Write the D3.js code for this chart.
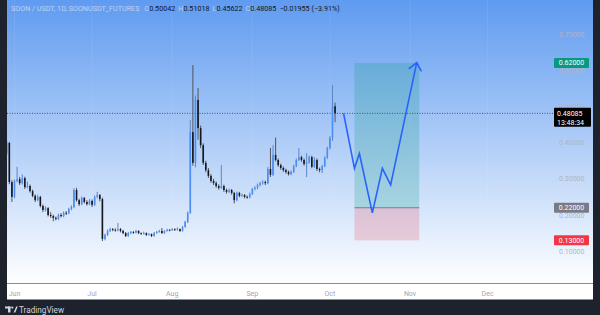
<!DOCTYPE html>
<html>
<head>
<meta charset="utf-8">
<script src="https://cdn.jsdelivr.net/npm/d3@7"></script>
<style>
html, body { margin: 0; padding: 0; background: #1e222d; }
svg { display: block; font-family: Roboto, "Open Sans", sans-serif; }
</style>
</head>
<body>
<svg id="chart" width="600" height="315"></svg>
<script>
// daily candles, SOON/USDT, 29 May -> 3 Oct
const firstDay = "2025-05-29";

const opens = [0.371,0.399,0.291,0.250,0.294,0.299,0.288,0.302,0.277,0.280,
  0.266,0.253,0.241,0.250,0.225,0.214,0.219,0.200,0.197,0.192,
  0.189,0.200,0.197,0.206,0.205,0.217,0.222,0.269,0.241,0.230,
  0.247,0.236,0.230,0.239,0.228,0.250,0.255,0.244,0.134,0.145,
  0.156,0.161,0.159,0.158,0.161,0.156,0.150,0.142,0.150,0.153,
  0.151,0.156,0.150,0.148,0.150,0.145,0.147,0.142,0.150,0.153,
  0.156,0.150,0.156,0.159,0.158,0.161,0.159,0.161,0.156,0.167,
  0.181,0.206,0.429,0.344,0.518,0.440,0.393,0.344,0.324,0.308,
  0.294,0.288,0.280,0.275,0.280,0.269,0.264,0.269,0.261,0.241,
  0.261,0.253,0.255,0.250,0.249,0.258,0.272,0.275,0.283,0.288,
  0.291,0.288,0.327,0.311,0.366,0.352,0.338,0.330,0.324,0.319,
  0.313,0.319,0.335,0.352,0.360,0.352,0.341,0.346,0.360,0.333,
  0.352,0.327,0.324,0.335,0.358,0.385,0.413,0.50042];

const highs = [0.405,0.402,0.296,0.298,0.333,0.305,0.312,0.306,0.292,0.284,
  0.270,0.257,0.256,0.253,0.229,0.224,0.222,0.208,0.201,0.196,
  0.204,0.205,0.210,0.211,0.220,0.227,0.274,0.275,0.245,0.251,
  0.250,0.241,0.244,0.243,0.254,0.264,0.258,0.248,0.149,0.160,
  0.165,0.164,0.163,0.178,0.164,0.159,0.153,0.153,0.156,0.156,
  0.159,0.158,0.152,0.154,0.152,0.150,0.149,0.153,0.156,0.159,
  0.164,0.158,0.162,0.161,0.164,0.163,0.166,0.163,0.170,0.184,
  0.210,0.462,0.614,0.530,0.551,0.447,0.398,0.350,0.330,0.313,
  0.300,0.293,0.285,0.338,0.284,0.273,0.273,0.272,0.264,0.265,
  0.264,0.259,0.258,0.254,0.262,0.275,0.280,0.287,0.292,0.296,
  0.295,0.333,0.385,0.393,0.414,0.356,0.342,0.334,0.328,0.323,
  0.323,0.339,0.356,0.385,0.364,0.356,0.371,0.364,0.364,0.360,
  0.356,0.331,0.339,0.362,0.389,0.418,0.559,0.51018];

const lows = [0.366,0.285,0.236,0.246,0.290,0.283,0.284,0.272,0.274,0.262,
  0.249,0.236,0.238,0.221,0.208,0.210,0.196,0.192,0.183,0.185,
  0.186,0.193,0.194,0.200,0.202,0.213,0.219,0.237,0.225,0.227,
  0.232,0.226,0.227,0.222,0.225,0.246,0.238,0.128,0.130,0.142,
  0.153,0.155,0.154,0.155,0.152,0.147,0.139,0.140,0.147,0.148,
  0.149,0.147,0.145,0.146,0.142,0.143,0.139,0.140,0.148,0.151,
  0.148,0.148,0.154,0.155,0.156,0.156,0.157,0.153,0.154,0.165,
  0.178,0.203,0.336,0.332,0.408,0.385,0.338,0.318,0.302,0.289,
  0.283,0.275,0.270,0.272,0.264,0.259,0.261,0.256,0.232,0.238,
  0.249,0.250,0.246,0.245,0.246,0.255,0.268,0.271,0.279,0.284,
  0.283,0.285,0.305,0.308,0.348,0.333,0.325,0.319,0.314,0.309,
  0.310,0.316,0.332,0.349,0.347,0.336,0.305,0.342,0.329,0.330,
  0.322,0.318,0.316,0.332,0.355,0.381,0.405,0.45622];

const closes = [0.399,0.291,0.250,0.294,0.299,0.288,0.302,0.277,0.280,0.266,
  0.253,0.241,0.250,0.225,0.214,0.219,0.200,0.197,0.192,0.189,
  0.200,0.197,0.206,0.205,0.217,0.222,0.269,0.241,0.230,0.247,
  0.236,0.230,0.239,0.228,0.250,0.255,0.244,0.134,0.145,0.156,
  0.161,0.159,0.158,0.161,0.156,0.150,0.142,0.150,0.153,0.151,
  0.156,0.150,0.148,0.150,0.145,0.147,0.142,0.150,0.153,0.156,
  0.150,0.156,0.159,0.158,0.161,0.159,0.161,0.156,0.167,0.181,
  0.206,0.429,0.344,0.518,0.440,0.393,0.344,0.324,0.308,0.294,
  0.288,0.280,0.275,0.280,0.269,0.264,0.269,0.261,0.241,0.261,
  0.253,0.255,0.250,0.249,0.258,0.272,0.275,0.283,0.288,0.291,
  0.288,0.327,0.311,0.366,0.352,0.338,0.330,0.324,0.319,0.313,
  0.319,0.335,0.352,0.360,0.352,0.341,0.346,0.360,0.333,0.352,
  0.327,0.324,0.335,0.358,0.385,0.413,0.50042,0.48085];

// drawn projection (long position tool + path)
const projDates = ["2025-10-06T07:00","2025-10-10T12:00","2025-10-12T10:00","2025-10-17T10:00",
  "2025-10-21T07:00","2025-10-24T12:00","2025-11-03T14:00"];
const projPrices = [0.48085, 0.329, 0.370, 0.206, 0.329, 0.283, 0.621];
const boxDates = ["2025-10-10T12:00", "2025-11-04T13:00"];
const targetPrice = 0.62, entryPrice = 0.22, stopPrice = 0.13;

const priceTicks = [0.1, 0.2, 0.3, 0.4, 0.5, 0.6, 0.7];
const monthTicks = ["2025-06-01","2025-07-01","2025-08-01","2025-09-01","2025-10-01","2025-11-01","2025-12-01"];

const headerTitle = "SOON / USDT, 1D, SOONUSDT_FUTURES";
const headerOHLC = [["O","0.50042"],["H","0.51018"],["L","0.45622"],["C","0.48085"]];
const headerChange = "−0.01955 (−3.91%)";
const lastPrice = 0.48085, countdown = "13:48:34";

const parse = d3.timeParse("%Y-%m-%d");
const parseT = d3.timeParse("%Y-%m-%dT%H:%M");
const start = parse(firstDay);
const candles = closes.map((c, i) => ({
  date: d3.timeDay.offset(start, i), o: opens[i], h: highs[i], l: lows[i], c: c
}));

const svg = d3.select("#chart");
const W = 600, H = 315;
const paneBottom = 283.5, axisBottom = 299.5;

const x = d3.scaleTime()
  .domain([parse("2025-06-01"), parse("2025-12-01")])
  .range([14.5, 487.6]);
const y = d3.scaleLinear().domain([0.1, 0.7]).range([251.2, 34]);

// background
const defs = svg.append("defs");
const grad = defs.append("linearGradient").attr("id", "bg")
  .attr("x1", 0).attr("y1", 0).attr("x2", 0).attr("y2", 1);
grad.append("stop").attr("offset", "0%").attr("stop-color", "#5f9bf0");
grad.append("stop").attr("offset", "100%").attr("stop-color", "#ffffff");

svg.append("rect").attr("x", 0).attr("y", 0).attr("width", W).attr("height", H).attr("fill", "#1e222d");
svg.append("rect").attr("x", 7).attr("y", 0).attr("width", 586).attr("height", paneBottom)
  .attr("fill", "url(#bg)");
svg.append("rect").attr("x", 7).attr("y", paneBottom).attr("width", 586).attr("height", axisBottom - paneBottom)
  .attr("fill", "#ffffff");

// faint month grid
svg.append("g").selectAll("line").data(monthTicks).enter().append("line")
  .attr("x1", d => x(parse(d))).attr("x2", d => x(parse(d)))
  .attr("y1", 0).attr("y2", paneBottom)
  .attr("stroke", "rgba(255,255,255,0.08)");

// long position box
const bx0 = x(parseT(boxDates[0])), bx1 = x(parseT(boxDates[1]));
svg.append("rect").attr("x", bx0).attr("y", y(targetPrice))
  .attr("width", bx1 - bx0).attr("height", y(entryPrice) - y(targetPrice))
  .attr("fill", "rgba(8,153,129,0.22)");
svg.append("rect").attr("x", bx0).attr("y", y(entryPrice))
  .attr("width", bx1 - bx0).attr("height", y(stopPrice) - y(entryPrice))
  .attr("fill", "rgba(242,54,69,0.2)");
svg.append("line").attr("x1", bx0).attr("x2", bx1)
  .attr("y1", y(entryPrice)).attr("y2", y(entryPrice))
  .attr("stroke", "#787b86").attr("stroke-width", 1);

// current price dotted line
svg.append("line").attr("x1", 7).attr("x2", 554)
  .attr("y1", y(lastPrice)).attr("y2", y(lastPrice))
  .attr("stroke", "#4c525e").attr("stroke-width", 1).attr("stroke-dasharray", "1,1.5");

// candles
const bw = 1.6;
const cg = svg.append("g");
cg.selectAll(".wick").data(candles).enter().append("line")
  .attr("class", "wick")
  .attr("x1", d => x(d.date)).attr("x2", d => x(d.date))
  .attr("y1", d => y(d.h)).attr("y2", d => y(d.l))
  .attr("stroke", d => d.c >= d.o ? "#5f86c4" : "#50545e").attr("stroke-width", 1);
cg.selectAll(".body").data(candles).enter().append("rect")
  .attr("class", "body")
  .attr("x", d => x(d.date) - bw / 2)
  .attr("y", d => y(Math.max(d.o, d.c)))
  .attr("width", bw)
  .attr("height", d => Math.max(0.8, Math.abs(y(d.o) - y(d.c))))
  .attr("fill", d => d.c >= d.o ? "#4a8ef6" : "#15171c");

// projection path
const pts = projDates.map((d, i) => [x(parseT(d)), y(projPrices[i])]);
svg.append("path").attr("d", d3.line()(pts))
  .attr("fill", "none").attr("stroke", "#2962ff").attr("stroke-width", 1.6)
  .attr("stroke-linejoin", "miter");
const tip = pts[pts.length - 1], prev = pts[pts.length - 2];
const ang = Math.atan2(prev[1] - tip[1], prev[0] - tip[0]);
const arrowLen = 10, spread = 40 * Math.PI / 180;
const wings = [ang + spread, ang - spread].map(a => [tip[0] + arrowLen * Math.cos(a), tip[1] + arrowLen * Math.sin(a)]);
svg.append("path").attr("d", d3.line()([wings[0], tip, wings[1]]))
  .attr("fill", "none").attr("stroke", "#2962ff").attr("stroke-width", 1.6);

// price axis labels
svg.append("g").selectAll("text").data(priceTicks).enter().append("text")
  .attr("x", 559).attr("y", d => y(d) + 2.5)
  .attr("font-size", 7).attr("fill", "#b2b5be")
  .text(d => d.toFixed(5));

function priceBox(p, bg) {
  svg.append("rect").attr("x", 554).attr("y", y(p) - 5).attr("width", 35).attr("height", 10)
    .attr("rx", 1).attr("fill", bg);
  svg.append("text").attr("x", 571.5).attr("y", y(p) + 2.5).attr("text-anchor", "middle")
    .attr("font-size", 7).attr("fill", "#ffffff").text(p.toFixed(5));
}
priceBox(targetPrice, "#089981");
priceBox(entryPrice, "#787b86");
priceBox(stopPrice, "#f23645");

// last price label
svg.append("rect").attr("x", 554).attr("y", y(lastPrice) - 5.5).attr("width", 37).attr("height", 19)
  .attr("rx", 1).attr("fill", "#000000");
svg.append("text").attr("x", 557).attr("y", y(lastPrice) + 2.5)
  .attr("font-size", 7).attr("fill", "#ffffff").text(lastPrice.toFixed(5));
svg.append("text").attr("x", 557).attr("y", y(lastPrice) + 11.3)
  .attr("font-size", 7).attr("fill", "#ffffff").text(countdown);

// time axis
svg.append("line").attr("x1", 7).attr("x2", 593).attr("y1", paneBottom).attr("y2", paneBottom)
  .attr("stroke", "#8a8d96").attr("stroke-width", 1);
svg.append("g").selectAll("text").data(monthTicks).enter().append("text")
  .attr("x", d => x(parse(d))).attr("y", 295.5).attr("text-anchor", "middle")
  .attr("font-size", 7).attr("fill", "#a3a6af")
  .text(d => d3.timeFormat("%b")(parse(d)));

// header legend
const hdr = svg.append("text").attr("x", 11).attr("y", 11).attr("font-size", 7.2);
hdr.append("tspan").attr("fill", "rgba(255,255,255,0.55)").text(headerTitle + "  ");
headerOHLC.forEach(([k, v]) => {
  hdr.append("tspan").attr("fill", "rgba(255,255,255,0.55)").attr("dx", 3).text(k);
  hdr.append("tspan").attr("fill", "#131722").text(v);
});
hdr.append("tspan").attr("fill", "#131722").attr("dx", 3).text(headerChange);

// side frames
svg.append("rect").attr("x", 0).attr("y", 0).attr("width", 7).attr("height", H).attr("fill", "#1e222d");
svg.append("rect").attr("x", 593).attr("y", 0).attr("width", 7).attr("height", H).attr("fill", "#1e222d");

// TradingView mark
const logo = svg.append("g").attr("fill", "#d1d4dc");
logo.append("rect").attr("x", 5).attr("y", 306.5).attr("width", 5.5).attr("height", 2);
logo.append("rect").attr("x", 8).attr("y", 306.5).attr("width", 2.5).attr("height", 6);
logo.append("circle").attr("cx", 12.3).attr("cy", 307.6).attr("r", 1.1);
logo.append("path").attr("d", "M13.6,312.5 L16.2,306.5 L17.8,306.5 L15.3,312.5 Z");
svg.append("text").attr("x", 19).attr("y", 312.5).attr("font-size", 8.2).attr("fill", "#d1d4dc")
  .text("TradingView");
</script>
</body>
</html>
